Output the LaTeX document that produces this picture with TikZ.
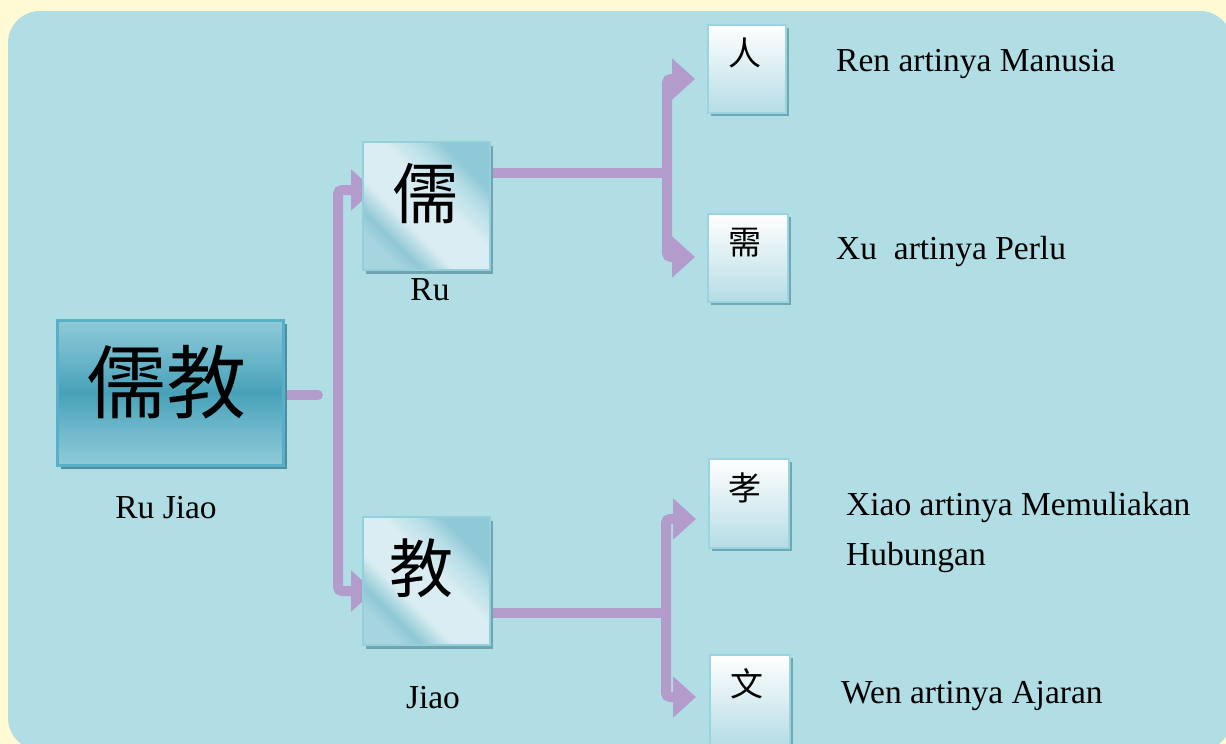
\documentclass[tikz,border=0pt]{standalone}
\usepackage{fontspec}
\setmainfont{Liberation Serif}
\newfontfamily\cjk{Noto Sans CJK TC}
\usetikzlibrary{arrows.meta,shadows,calc}
\pgfdeclarelayer{bg}
\pgfdeclarelayer{conn}
\pgfsetlayers{bg,conn,main}
\definecolor{cream}{HTML}{FFFAD4}
\definecolor{panel}{HTML}{B0DEE4}
\definecolor{purp}{HTML}{B39CCB}
\definecolor{mtop}{HTML}{8FCAD8}
\definecolor{mmid}{HTML}{47A1B8}
\definecolor{mhalf}{HTML}{66B3C7}
\definecolor{mborder}{HTML}{58AFC8}
\definecolor{mshadow}{HTML}{4F8E9C}
\definecolor{ga}{HTML}{A6D4DF}
\definecolor{gb}{HTML}{8FC8D6}
\definecolor{gc}{HTML}{DAEDF2}
\definecolor{gd}{HTML}{B8DEE7}
\definecolor{gborder}{HTML}{94CFDC}
\definecolor{gshadow}{HTML}{6FA4B0}
\definecolor{stop}{HTML}{FFFFFF}
\definecolor{smid}{HTML}{E2F1F4}
\definecolor{sbot}{HTML}{B5DCE5}
\definecolor{sborder}{HTML}{9AD4E0}
\definecolor{sshadow}{HTML}{6FA8B5}
\pgfdeclareverticalshading{mainsh}{100bp}{color(0bp)=(mtop); color(25bp)=(mtop); color(40bp)=(mhalf); color(50bp)=(mmid); color(60bp)=(mhalf); color(75bp)=(mtop); color(100bp)=(mtop)}
\pgfdeclarehorizontalshading{glass}{100bp}{color(0bp)=(ga); color(25bp)=(ga); color(31bp)=(gb); color(40bp)=(gc); color(55bp)=(gc); color(65bp)=(gd); color(72bp)=(gb); color(100bp)=(gb)}
\pgfdeclareverticalshading{smallsh}{100bp}{color(0bp)=(sbot); color(25bp)=(sbot); color(55bp)=(smid); color(75bp)=(stop); color(100bp)=(stop)}
\tikzset{
  mainbox/.style={minimum width=226pt, minimum height=145pt, inner sep=0pt, draw=mborder, line width=3pt, shading=mainsh, general shadow={fill=mshadow, shadow xshift=4pt, shadow yshift=-4pt}},
  glassbox/.style={minimum width=127pt, minimum height=128pt, inner sep=0pt, draw=gborder, line width=2pt, shading=glass, shading angle=45, general shadow={fill=gshadow, shadow xshift=3pt, shadow yshift=-4pt}},
  smallbox/.style={minimum width=78pt, minimum height=88pt, inner sep=0pt, draw=sborder, line width=2pt, shading=smallsh, general shadow={fill=sshadow, shadow xshift=3pt, shadow yshift=-3pt}},
  bigchar/.style={font=\cjk\fontsize{80}{80}\selectfont, inner sep=0pt},
  midchar/.style={font=\cjk\fontsize{64}{64}\selectfont, inner sep=0pt},
  smallchar/.style={font=\cjk\fontsize{33}{33}\selectfont, inner sep=0pt},
  lbl/.style={font=\fontsize{33.5}{33.5}\selectfont, inner sep=0pt, anchor=base},
  desc/.style={font=\fontsize{33.5}{33.5}\selectfont, inner sep=0pt, anchor=base west},
  conn/.style={draw=purp, line width=10pt, rounded corners=4pt},
  arr/.style={-{Triangle[width=40pt,length=23pt]}}
}
\begin{document}
\begin{tikzpicture}[x=1pt,y=-1pt]
\useasboundingbox (0,0) rectangle (1226,744);
\begin{pgfonlayer}{bg}
\fill[cream] (0,0) rectangle (1226,744);
\fill[panel, rounded corners=32pt] (8,11) rectangle (1232,750);
\end{pgfonlayer}

% main node
\node[mainbox] (main) at (170,392.5) {};
\node[bigchar] (mainc) at (166,382) {儒教};
\node[lbl] (mainl) at (166,518) {Ru Jiao};

% level 2
\node[glassbox] (ru) at (426.5,206) {};
\node[midchar, font=\cjk\fontsize{66}{66}\selectfont] (ruc) at (425,194) {儒};
\node[lbl] (rul) at (430,300) {Ru};
\node[glassbox] (jiao) at (426.5,581) {};
\node[midchar] (jiaoc) at (421,568) {教};
\node[lbl] (jiaol) at (433,708) {Jiao};

% level 3
\node[smallbox] (ren) at (747,69) {};
\node[smallchar] (renc) at (745,53) {人};
\node[smallbox, minimum width=80pt] (xu) at (748,258) {};
\node[smallchar] (xuc) at (745,243) {需};
\node[smallbox, minimum width=80pt, minimum height=89pt] (xiao) at (749,503.5) {};
\node[smallchar] (xiaoc) at (745,488) {孝};
\node[smallbox, minimum width=80pt, minimum height=90pt] (wen) at (750,700) {};
\node[smallchar] (wenc) at (747,684) {文};

% descriptions
\node[desc] (rent) at (836,71) {Ren artinya Manusia};
\node[desc] (xut) at (836,259) {Xu\ \ artinya Perlu};
\node[desc] (xiaot) at (846,515) {Xiao artinya Memuliakan};
\node[desc] (xiaot2) at (846,565) {Hubungan};
\node[desc] (went) at (841,703) {Wen artinya Ajaran};

% connectors
\coordinate (stubend) at (318,395);
\coordinate (trunk) at (338,395);
\coordinate (j1) at (667,173);
\coordinate (j2) at (666,613);
\begin{pgfonlayer}{conn}
\draw[conn, line cap=round] ($(main.east)+(0,2.5)$) -- (stubend);
\draw[conn, arr] (trunk) |- ($(ru.west)+(12,-16)$);
\draw[conn, arr] (trunk) |- ($(jiao.west)+(12,10)$);
\draw[conn] ($(ru.east)+(0,-33)$) -- (j1);
\draw[conn, arr] (j1) |- ($(ren.west)+(-12,10)$);
\draw[conn, arr] (j1) |- ($(xu.west)+(-12,-1)$);
\draw[conn] ($(jiao.east)+(0,32)$) -- (j2);
\draw[conn, arr] (j2) |- ($(xiao.west)+(-12,15.5)$);
\draw[conn, arr] (j2) |- ($(wen.west)+(-13,-3)$);
\end{pgfonlayer}
\end{tikzpicture}
\end{document}
